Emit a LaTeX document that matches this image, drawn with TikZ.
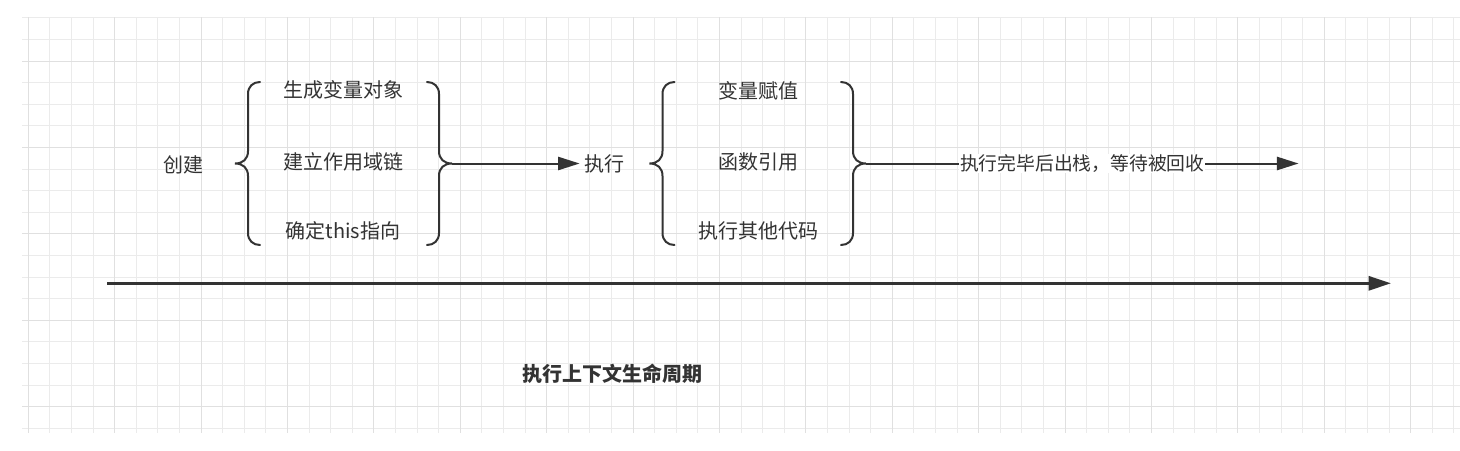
\documentclass[tikz,border=0pt]{standalone}
\usepackage{fontspec}
\setmainfont{Noto Sans CJK SC}
\usetikzlibrary{arrows.meta}
\definecolor{ink}{HTML}{333333}
\definecolor{gridminor}{HTML}{EBEBEB}
\definecolor{gridmajor}{HTML}{E0E0E0}
\begin{document}
\begin{tikzpicture}[x=0.5pt,y=-0.5pt,
  txt/.style={font=\fontsize{10pt}{12pt}\selectfont, text=ink, inner sep=1pt},
  ttl/.style={font=\fontsize{10pt}{12pt}\selectfont\bfseries, text=ink, inner sep=1pt},
  lbl/.style={font=\fontsize{9.4pt}{11pt}\selectfont, text=ink, fill=white, inner sep=0.5pt},
  brace/.style={draw=ink, line width=1pt, line cap=round},
  conn/.style={draw=ink, line width=1pt, -{Triangle[length=10.8pt,width=6.6pt]}},
  timeline/.style={draw=ink, line width=1.5pt, -{Triangle[length=11.2pt,width=7pt]}},
  gminor/.style={draw=gridminor, line width=0.5pt},
  gmajor/.style={draw=gridmajor, line width=0.5pt},
  lbr/.pic={\draw[brace] (25,-81.5) .. controls (18,-81.5) and (13,-77) .. (13,-69.5) -- (13,-12.5) .. controls (13,-4.5) and (8,0) .. (0,0) .. controls (8,0) and (13,4.5) .. (13,12.5) -- (13,69.5) .. controls (13,77) and (18,81.5) .. (25,81.5);}
]
\useasboundingbox[fill=white] (0,0) rectangle (1460,450);
% grid (snapped to pixel centres)
\begin{scope}
\clip (22,17) rectangle (1460,433);
\foreach \i in {0,...,66} {\pgfmathsetmacro{\gx}{floor(28.3+21.6*\i)+0.5}\draw[gminor] (\gx,17) -- (\gx,433);}
\foreach \j in {0,...,19} {\pgfmathsetmacro{\gy}{floor(17.8+21.6*\j)+0.5}\draw[gminor] (22,\gy) -- (1460,\gy);}
\foreach \i in {0,4,...,64} {\pgfmathsetmacro{\gx}{floor(28.3+21.6*\i)+0.5}\draw[gmajor] (\gx,17) -- (\gx,433);}
\foreach \j in {2,6,...,18} {\pgfmathsetmacro{\gy}{floor(17.8+21.6*\j)+0.5}\draw[gmajor] (22,\gy) -- (1460,\gy);}
\end{scope}
% texts
\node[txt] (create) at (183,165) {创建};
\node[txt] (a1) at (343,90) {生成变量对象};
\node[txt] (a2) at (343,162) {建立作用域链};
\node[txt] (a3) at (343,231) {确定this指向};
\node[txt,inner sep=2pt] (exec) at (604,163.5) {执行};
\node[txt] (b1) at (758,90.5) {变量赋值};
\node[txt] (b2) at (758,162) {函数引用};
\node[txt] (b3) at (758,231) {执行其他代码};
\node[ttl] (title) at (612,373.5) {执行上下文生命周期};
% braces
\pic at (235,163.5) {lbr};
\pic[xscale=-1] at (452,163.5) {lbr};
\pic at (649.5,163.5) {lbr};
\pic[xscale=-1] at (866,163.5) {lbr};
% connectors
\coordinate (b1r) at (452,163.5);
\coordinate (b2r) at (866,163.5);
\coordinate (done) at (1298.5,163.5);
\coordinate (tl0) at (107,283.3);
\coordinate (tl1) at (1391,283.3);
\draw[conn] (b1r) -- (exec.west);
\draw[conn] (b2r) -- node[lbl] (lab) {执行完毕后出栈，等待被回收} (done);
\draw[timeline] (tl0) -- (tl1);
\end{tikzpicture}
\end{document}
